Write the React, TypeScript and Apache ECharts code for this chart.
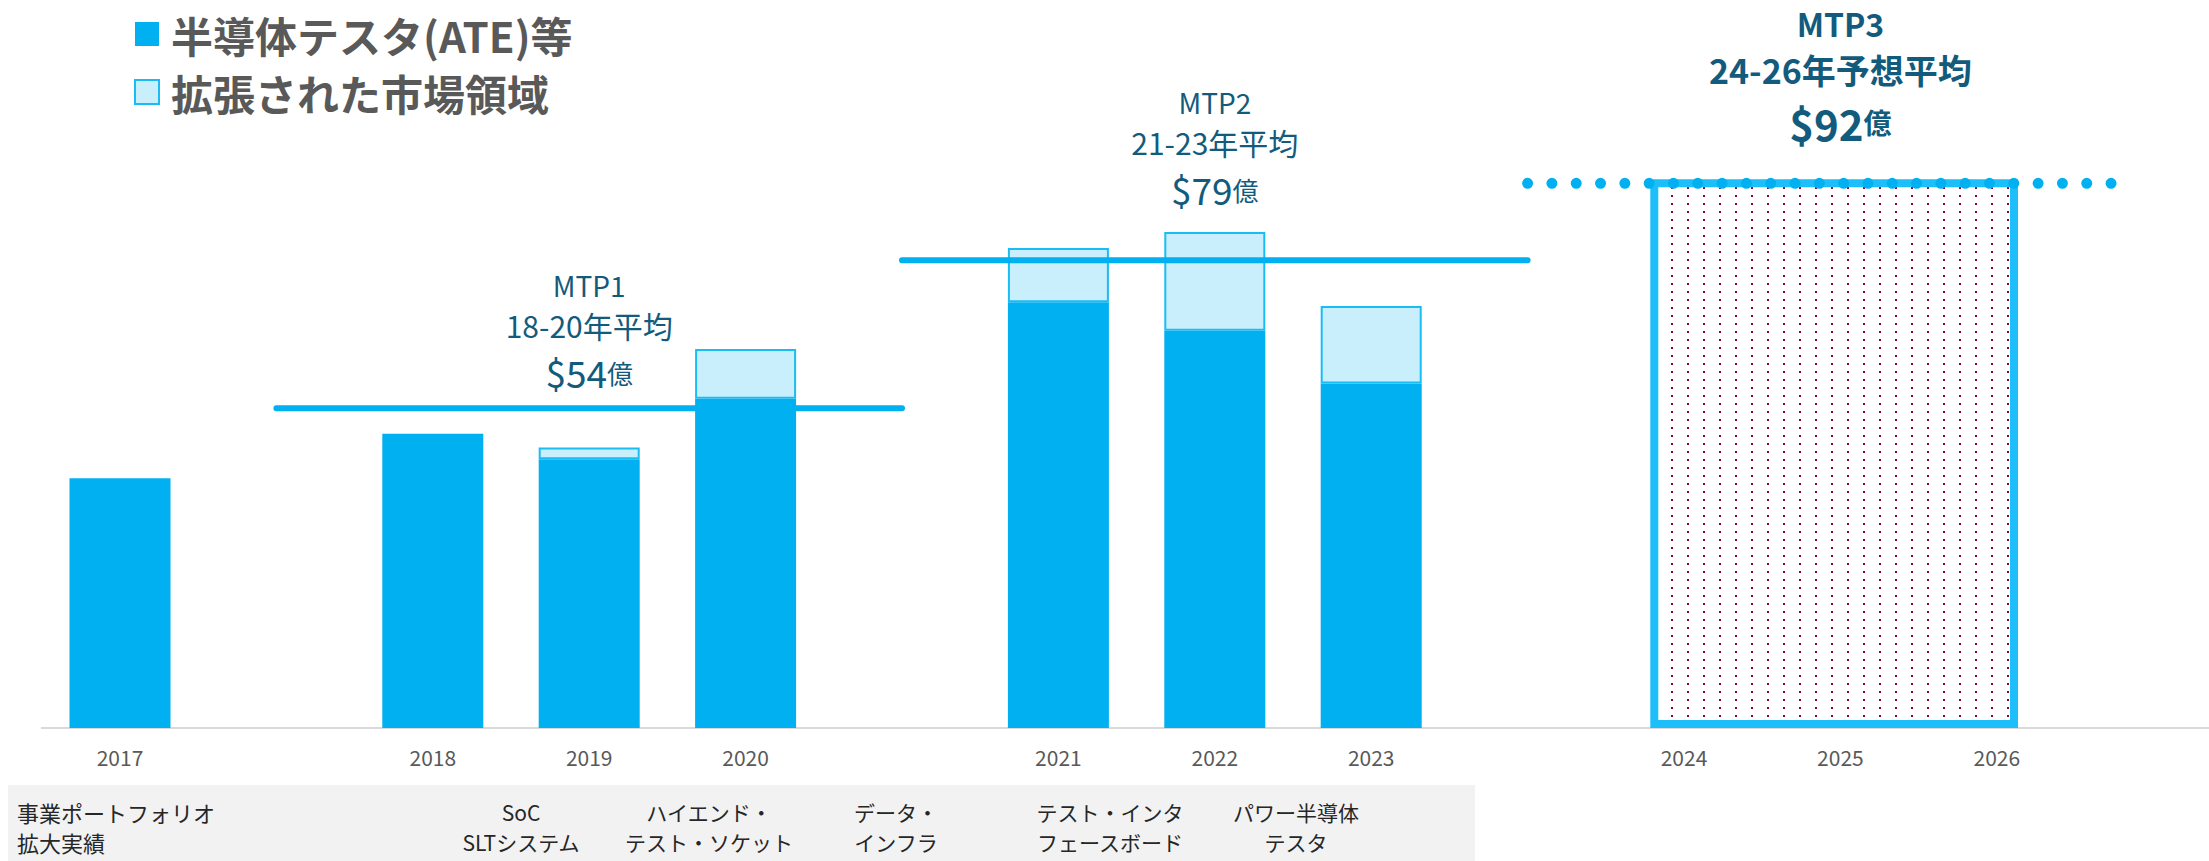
import React, { useEffect, useRef } from "react";
import * as echarts from "echarts";

// ---- data ----
const categories = ["2017", "", "2018", "2019", "2020", "", "2021", "2022", "2023", "", "2024", "2025", "2026", ""];
const ateValues: (number | string)[] = [42.2, "-", 49.7, 45.4, 55.6, "-", 71.9, 67.1, 58.2, "-", "-", "-", "-", "-"];
const expandedValues: (number | string)[] = ["-", "-", "-", 2.0, 8.4, "-", 9.2, 16.7, 13.1, "-", "-", "-", "-", "-"];
const legendNames = ["半導体テスタ(ATE)等", "拡張された市場領域"];

const mtpNames = ["MTP1", "MTP2", "MTP3"];
const mtpPeriods = ["18-20年平均", "21-23年平均", "24-26年予想平均"];
const mtpAverages = [54, 79, 92];
const mtpUnit = "億";
// positions along the category slots (slot index)
const mtpLineStart = [1, 5, 9];
const mtpLineEnd = [5, 9, 12.87];
const mtpLabelAt = [3, 7, 11];
const mtp3BoxSpan = [9.81, 12.11];

const portfolioTitle = ["事業ポートフォリオ", "拡大実績"];
const portfolioItems = [
  ["SoC", "SLTシステム"],
  ["ハイエンド・", "テスト・ソケット"],
  ["データ・", "インフラ"],
  ["テスト・インタ", "フェースボード"],
  ["パワー半導体", "テスタ"],
];

// ---- layout / style ----
const FONT = "'Noto Sans CJK JP', 'Noto Sans', sans-serif";
const CYAN = "#00b0f0";
const LIGHT = "#c9effd";
const LIGHT_BORDER = "#19bdf3";
const MTP_TEXT = "#135b7c";
const portfolioX = [521, 709, 896, 1110, 1296];
const rowY = [812, 842];

export default function App() {
  const ref = useRef<HTMLDivElement>(null);

  useEffect(() => {
    document.body.style.margin = "0";
    if (!ref.current) return;
    const chart = echarts.init(ref.current, null, { renderer: "svg" });

    const cv = document.createElement("canvas");
    cv.width = 16;
    cv.height = 8;
    const ctx = cv.getContext("2d")!;
    ctx.fillStyle = "#ffffff";
    ctx.fillRect(0, 0, 16, 8);
    ctx.fillStyle = "#8e0038";
    ctx.fillRect(7, 3, 2, 2);
    const pattern: any = { image: cv, repeat: "repeat" };

    const normalRich = {
      a: { fontSize: 28, lineHeight: 38, color: MTP_TEXT, fontFamily: FONT },
      b: { fontSize: 30, lineHeight: 42, color: MTP_TEXT, fontFamily: FONT },
      c: { fontSize: 37, lineHeight: 52, color: MTP_TEXT, fontFamily: FONT },
      d: { fontSize: 26, lineHeight: 52, color: MTP_TEXT, fontFamily: FONT },
    };
    const boldRich = {
      a: { fontSize: 32, lineHeight: 42, fontWeight: "bold", color: MTP_TEXT, fontFamily: FONT },
      b: { fontSize: 34, lineHeight: 50, fontWeight: "bold", color: MTP_TEXT, fontFamily: FONT },
      c: { fontSize: 42, lineHeight: 56, fontWeight: "bold", color: MTP_TEXT, fontFamily: FONT },
      d: { fontSize: 28, lineHeight: 56, fontWeight: "bold", color: MTP_TEXT, fontFamily: FONT },
    };
    const labelDistance = [9, 44, 32];

    const mtpSeries = mtpNames.map((name, i) => ({
      name,
      type: "line",
      xAxisIndex: 1,
      yAxisIndex: 0,
      z: 5,
      symbol: "circle",
      symbolSize: 2,
      showSymbol: true,
      itemStyle: { color: "rgba(0,0,0,0)" },
      lineStyle:
        i < 2
          ? { color: CYAN, width: 6, cap: "round" }
          : { color: CYAN, width: 11, type: [0.01, 24.3], cap: "round" },
      silent: true,
      data: [
        [mtpLineStart[i], mtpAverages[i]],
        {
          value: [mtpLabelAt[i], mtpAverages[i]],
          label: {
            show: true,
            position: "top",
            distance: labelDistance[i],
            align: "center",
            formatter: `{a|${name}}\n{b|${mtpPeriods[i]}}\n{c|$${mtpAverages[i]}}{d|${mtpUnit}}`,
            rich: i < 2 ? normalRich : boldRich,
          },
        },
        [mtpLineEnd[i], mtpAverages[i]],
      ],
    }));

    const graphic: any[] = [
      {
        type: "rect",
        shape: { x: 8, y: 785, width: 1467, height: 76 },
        style: { fill: "#f2f2f2" },
        z: 0,
      },
    ];
    portfolioTitle.forEach((t, r) => {
      graphic.push({
        type: "text",
        x: 17,
        y: rowY[r],
        style: {
          text: t,
          fontSize: 22,
          fontFamily: FONT,
          fill: "#262626",
          align: "left",
          verticalAlign: "middle",
        },
        z: 1,
      });
    });
    portfolioItems.forEach((item, c) => {
      item.forEach((t, r) => {
        graphic.push({
          type: "text",
          x: portfolioX[c],
          y: rowY[r],
          style: {
            text: t,
            fontSize: 21,
            fontFamily: FONT,
            fill: "#262626",
            align: "center",
            verticalAlign: "middle",
          },
          z: 1,
        });
      });
    });

    chart.setOption({
      animation: false,
      textStyle: { fontFamily: FONT },
      grid: {
        left: 41.8,
        top: 76.8,
        width: 2189.6,
        height: 651.2,
        containLabel: false,
        outerBoundsMode: "none",
      },
      legend: {
        data: legendNames,
        orient: "vertical",
        left: 129,
        top: 7,
        itemWidth: 24,
        itemHeight: 24,
        itemGap: 14,
        icon: "rect",
        selectedMode: false,
        textStyle: {
          fontSize: 42,
          fontWeight: "bold",
          color: "#595959",
          fontFamily: FONT,
          lineHeight: 44,
          padding: [0, 0, 0, 7],
        },
      },
      xAxis: [
        {
          type: "category",
          data: categories,
          axisLine: { show: true, lineStyle: { color: "#d9d9d9", width: 2 } },
          axisTick: { show: false },
          axisLabel: { interval: 0, fontSize: 21, color: "#595959", margin: 18, fontFamily: FONT },
        },
        {
          type: "value",
          min: -0.5,
          max: 13.5,
          show: false,
        },
      ],
      yAxis: { type: "value", min: 0, max: 110, show: false, splitLine: { show: false } },
      series: [
        {
          name: legendNames[0],
          type: "bar",
          stack: "total",
          barWidth: 101,
          itemStyle: { color: CYAN },
          data: ateValues,
        },
        {
          name: legendNames[1],
          type: "bar",
          stack: "total",
          barWidth: 101,
          itemStyle: { color: LIGHT, borderColor: LIGHT_BORDER, borderWidth: 2 },
          data: expandedValues,
        },
        {
          name: "MTP3box",
          type: "custom",
          xAxisIndex: 1,
          yAxisIndex: 0,
          z: 3,
          silent: true,
          encode: { x: [0, 1], y: 2 },
          renderItem: (params: any, api: any) => {
            const p0 = api.coord([api.value(0), api.value(2)]);
            const p1 = api.coord([api.value(1), 0]);
            return {
              type: "rect",
              shape: { x: p0[0], y: p0[1], width: p1[0] - p0[0], height: p1[1] - p0[1] - 4 },
              style: { fill: pattern, stroke: "#1dbffa", lineWidth: 8 },
            };
          },
          data: [[mtp3BoxSpan[0], mtp3BoxSpan[1], mtpAverages[2]]],
        },
        ...mtpSeries,
      ],
      graphic,
    } as any);

    return () => chart.dispose();
  }, []);

  return <div ref={ref} style={{ width: 2209, height: 861 }} />;
}
